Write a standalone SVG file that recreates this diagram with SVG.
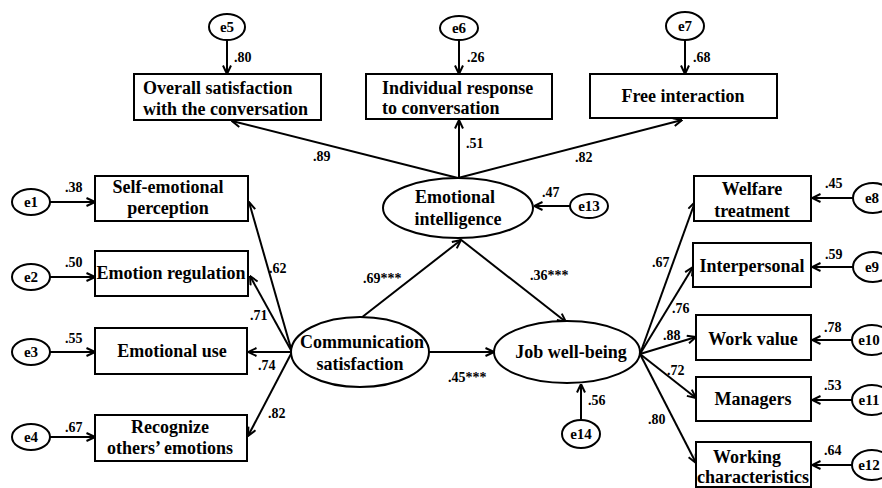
<svg xmlns="http://www.w3.org/2000/svg" width="882" height="488" viewBox="0 0 882 488">
<defs>
<marker id="arr" viewBox="0 0 10 10" refX="9.5" refY="5" markerWidth="10" markerHeight="10" markerUnits="userSpaceOnUse" orient="auto">
<path d="M1,1 L9.5,5 L1,9" fill="none" stroke="#000" stroke-width="2"/>
</marker>
<style>
.b rect,.b ellipse{fill:#fff;stroke:#000;stroke-width:2}
.c line{stroke:#000;stroke-width:2;marker-end:url(#arr)}
text{font-family:"Liberation Serif","Times New Roman",serif;font-weight:bold;fill:#000}
.t{font-size:18px}
.m{text-anchor:middle}
.e{font-size:15px;text-anchor:middle}
.n{font-size:14px}
</style>
</defs>
<rect x="0" y="0" width="882" height="488" fill="#fff"/>

<g class="c" id="connectors">
<line x1="227" y1="40" x2="227" y2="74"/>
<line x1="459" y1="40" x2="459" y2="74"/>
<line x1="685" y1="40" x2="685" y2="74"/>
<line x1="458" y1="178" x2="232" y2="121"/>
<line x1="459" y1="178" x2="459" y2="120"/>
<line x1="458" y1="178" x2="682" y2="120"/>
<line x1="570" y1="206" x2="534" y2="206"/>
<line x1="361" y1="318" x2="461" y2="240"/>
<line x1="460" y1="239" x2="566" y2="322"/>
<line x1="429" y1="352" x2="494" y2="352"/>
<line x1="581" y1="420" x2="581" y2="384"/>
<line x1="292" y1="352" x2="249" y2="202"/>
<line x1="292" y1="352" x2="250" y2="276"/>
<line x1="292" y1="352" x2="248" y2="352"/>
<line x1="292" y1="352" x2="248" y2="436"/>
<line x1="50" y1="202" x2="95" y2="202"/>
<line x1="50" y1="277" x2="95" y2="277"/>
<line x1="50" y1="352" x2="95" y2="352"/>
<line x1="50" y1="437" x2="95" y2="437"/>
<line x1="640" y1="354" x2="695" y2="202"/>
<line x1="640" y1="354" x2="693" y2="267"/>
<line x1="640" y1="354" x2="696" y2="337"/>
<line x1="640" y1="354" x2="696" y2="398"/>
<line x1="640" y1="354" x2="696" y2="463"/>
<line x1="853" y1="198" x2="812" y2="198"/>
<line x1="853" y1="267" x2="812" y2="267"/>
<line x1="852" y1="340" x2="812" y2="340"/>
<line x1="852" y1="400" x2="812" y2="400"/>
<line x1="852" y1="465" x2="812" y2="465"/>
</g>

<g id="labels">
<text class="n" x="234" y="62">.80</text>
<text class="n" x="467" y="62">.26</text>
<text class="n" x="693" y="62">.68</text>
<text class="n" x="466" y="148">.51</text>
<text class="n" x="313" y="161">.89</text>
<text class="n" x="575" y="162">.82</text>
<text class="n" x="542" y="197">.47</text>
<text class="n" x="363" y="283">.69***</text>
<text class="n" x="530" y="280">.36***</text>
<text class="n" x="448" y="382">.45***</text>
<text class="n" x="588" y="405">.56</text>
<text class="n" x="65" y="192">.38</text>
<text class="n" x="65" y="267">.50</text>
<text class="n" x="65" y="343">.55</text>
<text class="n" x="65" y="432">.67</text>
<text class="n" x="269" y="273">.62</text>
<text class="n" x="250" y="320">.71</text>
<text class="n" x="258" y="370">.74</text>
<text class="n" x="268" y="418">.82</text>
<text class="n" x="652" y="267">.67</text>
<text class="n" x="672" y="313">.76</text>
<text class="n" x="663" y="340">.88</text>
<text class="n" x="667" y="375">.72</text>
<text class="n" x="648" y="424">.80</text>
<text class="n" x="825" y="188">.45</text>
<text class="n" x="825" y="259">.59</text>
<text class="n" x="824" y="332">.78</text>
<text class="n" x="824" y="390">.53</text>
<text class="n" x="824" y="455">.64</text>
</g>

<g class="b">
<g id="e5"><ellipse cx="227" cy="27" rx="18" ry="13"/><text class="e" x="227" y="32">e5</text></g>
<g id="e6"><ellipse cx="459" cy="28" rx="19" ry="12"/><text class="e" x="459" y="33">e6</text></g>
<g id="e7"><ellipse cx="685" cy="26" rx="19" ry="14"/><text class="e" x="685" y="31">e7</text></g>

<g id="overall"><rect x="134" y="74" width="187" height="46"/><text class="t" x="143" y="94">Overall satisfaction</text><text class="t" x="143" y="115">with the conversation</text></g>
<g id="individual"><rect x="366" y="74" width="186" height="45"/><text class="t" x="382" y="94">Individual response</text><text class="t" x="382" y="114">to conversation</text></g>
<g id="free"><rect x="590" y="74" width="187" height="44"/><text class="t m" x="683" y="102">Free interaction</text></g>

<g id="ei"><ellipse cx="458" cy="208" rx="75" ry="30"/><text class="t m" x="455" y="203">Emotional</text><text class="t m" x="458" y="225">intelligence</text></g>
<g id="e13"><ellipse cx="589" cy="206" rx="19" ry="12"/><text class="e" x="589" y="211">e13</text></g>

<g id="cs"><ellipse cx="360" cy="352" rx="69" ry="35"/><text class="t m" x="362" y="348">Communication</text><text class="t m" x="360" y="370">satisfaction</text></g>
<g id="jwb"><ellipse cx="567" cy="352" rx="73" ry="31"/><text class="t m" x="571" y="358">Job well-being</text></g>
<g id="e14"><ellipse cx="581" cy="434" rx="19" ry="14"/><text class="e" x="581" y="439">e14</text></g>

<g id="self"><rect x="95" y="176" width="153" height="45"/><text class="t m" x="168" y="193">Self-emotional</text><text class="t m" x="168" y="214">perception</text></g>
<g id="reg"><rect x="95" y="251" width="153" height="45"/><text class="t m" x="171" y="279">Emotion regulation</text></g>
<g id="use"><rect x="95" y="328" width="152" height="46"/><text class="t m" x="172" y="357">Emotional use</text></g>
<g id="rec"><rect x="95" y="415" width="152" height="46"/><text class="t m" x="170" y="433">Recognize</text><text class="t m" x="170" y="454">others’ emotions</text></g>

<g id="e1"><ellipse cx="31" cy="202" rx="19" ry="13"/><text class="e" x="31" y="207">e1</text></g>
<g id="e2"><ellipse cx="31" cy="277" rx="19" ry="13"/><text class="e" x="31" y="282">e2</text></g>
<g id="e3"><ellipse cx="31" cy="352" rx="19" ry="13"/><text class="e" x="31" y="357">e3</text></g>
<g id="e4"><ellipse cx="31" cy="437" rx="19" ry="13"/><text class="e" x="31" y="442">e4</text></g>

<g id="welfare"><rect x="694" y="176" width="117" height="45"/><text class="t m" x="752" y="195">Welfare</text><text class="t m" x="752" y="217">treatment</text></g>
<g id="inter"><rect x="693" y="243" width="118" height="44"/><text class="t m" x="752" y="272">Interpersonal</text></g>
<g id="work"><rect x="696" y="315" width="115" height="45"/><text class="t m" x="753" y="345">Work value</text></g>
<g id="managers"><rect x="696" y="377" width="115" height="44"/><text class="t m" x="753" y="405">Managers</text></g>
<g id="wchar"><rect x="696" y="442" width="115" height="45"/><text class="t m" x="747" y="463">Working</text><text class="t m" x="753" y="483">characteristics</text></g>

<g id="e8"><ellipse cx="873" cy="198" rx="20" ry="15"/><text class="e" x="872" y="203">e8</text></g>
<g id="e9"><ellipse cx="873" cy="267" rx="20" ry="15"/><text class="e" x="872" y="272">e9</text></g>
<g id="e10"><ellipse cx="872" cy="340" rx="20" ry="15"/><text class="e" x="869" y="345">e10</text></g>
<g id="e11"><ellipse cx="872" cy="400" rx="20" ry="15"/><text class="e" x="869" y="405">e11</text></g>
<g id="e12"><ellipse cx="872" cy="465" rx="20" ry="15"/><text class="e" x="869" y="470">e12</text></g>
</g>
</svg>
